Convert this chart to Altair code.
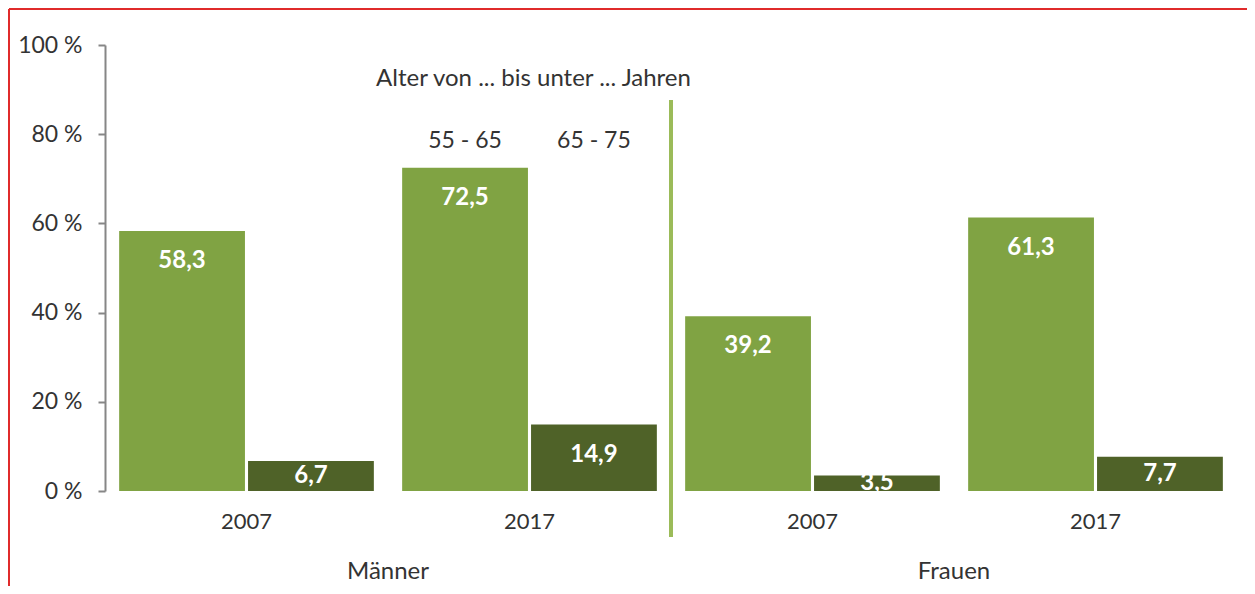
import altair as alt
import pandas as pd

genders = ["Männer", "Männer", "Frauen", "Frauen"]
years = ["2007", "2017", "2007", "2017"]
age_groups = ["55 - 65", "65 - 75"]
values_55_65 = [58.3, 72.5, 39.2, 61.3]
values_65_75 = [6.7, 14.9, 3.5, 7.7]
gender_labels = ["Männer", "Frauen"]
header_text = "Alter von ... bis unter ... Jahren"
y_ticks = [0, 20, 40, 60, 80, 100]

groups = [f"{g} {y}" for g, y in zip(genders, years)]
rows = []
for i, grp in enumerate(groups):
    for s, vals in zip(age_groups, [values_55_65, values_65_75]):
        rows.append({"group": grp, "series": s, "value": vals[i],
                     "label": f"{vals[i]:.1f}".replace(".", ",")})
df = pd.DataFrame(rows)

series_df = pd.DataFrame({"group": [groups[1]] * 2, "series": age_groups})
header_df = pd.DataFrame({"group": [groups[1]], "text": [header_text]})
gender_df = pd.DataFrame({"gender": gender_labels, "pos": [1, 3]})
sep_df = pd.DataFrame({"pos": [2]})
border_df = pd.DataFrame({"k": [0]})

W, H = 1132, 446
PAD_R, PAD_B = 10, 95
FONT = "Lato"
TXT = "#333333"

xscale = alt.Scale(domain=groups, paddingInner=0.1, paddingOuter=0.05)
xoff = alt.Scale(domain=age_groups, paddingInner=0.024, paddingOuter=0)
yscale = alt.Scale(domain=[0, 100])
cscale = alt.Scale(domain=age_groups, range=["#80A343", "#4F6228"])
qscale = alt.Scale(domain=[0, 4])

yaxis = alt.Axis(
    values=y_ticks, labelExpr="datum.value + ' %'", title=None, grid=False,
    domainColor="#868686", domainWidth=2, tickColor="#868686", tickWidth=2,
    tickSize=7, labelFontSize=23, labelPadding=16, labelColor=TXT,
    labelFont=FONT)

bars = alt.Chart(df).mark_bar().encode(
    x=alt.X("group:N", scale=xscale, axis=alt.Axis(
        title=None, labelExpr="split(datum.label, ' ')[1]", ticks=False,
        domain=False, labelAngle=0, labelFontSize=22, labelPadding=20,
        labelColor=TXT, labelFont=FONT)),
    xOffset=alt.XOffset("series:N", scale=xoff),
    y=alt.Y("value:Q", scale=yscale, axis=yaxis),
    color=alt.Color("series:N", scale=cscale, legend=None),
)

values = alt.Chart(df).transform_calculate(
    ly="max(datum.value / 2, datum.value - 6.8)"
).mark_text(color="white", fontWeight="bold", fontSize=24, font=FONT,
            baseline="middle").encode(
    x=alt.X("group:N", scale=xscale, axis=None),
    xOffset=alt.XOffset("series:N", scale=xoff),
    y=alt.Y("ly:Q", scale=yscale),
    text="label:N",
)

series_text = alt.Chart(series_df).mark_text(
    fontSize=23, font=FONT, color=TXT, baseline="middle").encode(
    x=alt.X("group:N", scale=xscale, axis=None),
    xOffset=alt.XOffset("series:N", scale=xoff),
    y=alt.value(96),
    text="series:N",
)

header = alt.Chart(header_df).mark_text(
    fontSize=24, font=FONT, color=TXT, baseline="middle", dx=4).encode(
    x=alt.X("group:N", scale=xscale, axis=None),
    y=alt.value(34),
    text="text:N",
)

gender = alt.Chart(gender_df).mark_text(
    fontSize=24, font=FONT, color=TXT, baseline="middle").encode(
    x=alt.X("pos:Q", scale=qscale, axis=None),
    y=alt.value(H + 81),
    text="gender:N",
)

sep = alt.Chart(sep_df).mark_rule(color="#9BBB59", strokeWidth=4).encode(
    x=alt.X("pos:Q", scale=qscale, axis=None),
    y=alt.value(55),
    y2=alt.value(H + 46),
)

border_top = alt.Chart(border_df).mark_rule(color="#E02B2B", strokeWidth=2).encode(
    x=alt.value(-96), x2=alt.value(W + PAD_R), y=alt.value(-36))
border_left = alt.Chart(border_df).mark_rule(color="#E02B2B", strokeWidth=2).encode(
    x=alt.value(-96), y=alt.value(-36), y2=alt.value(H + PAD_B))

chart = alt.layer(
    bars, values, series_text, header, gender, sep, border_top, border_left
).resolve_scale(x="independent").properties(
    width=W, height=H,
    autosize=alt.AutoSizeParams(type="none"),
    padding={"left": 97, "top": 37, "right": PAD_R, "bottom": PAD_B},
).configure(font=FONT).configure_view(stroke=None, strokeWidth=0)

chart.save("out.html", embed_options={"renderer": "svg", "actions": False})
